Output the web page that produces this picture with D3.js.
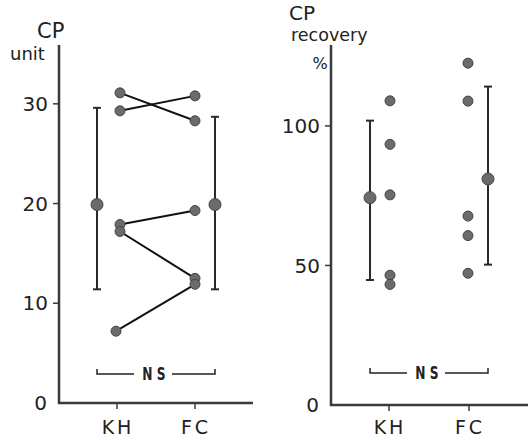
<!DOCTYPE html>
<html>
<head>
<meta charset="utf-8">
<script src="https://cdn.jsdelivr.net/npm/d3@7"></script>
<style>
  body { margin: 0; background: #fff; }
  svg text { font-family: "DejaVu Sans", "Liberation Sans", sans-serif; fill: #222; }
  .ns { font-weight: bold; }
</style>
</head>
<body>
<div class="container"></div>
<script>
// groups on the x axis
const groups = ["KH", "FC"];

// left panel: CP unit, paired values (KH -> FC)
const cpKH = [31.1, 29.3, 17.9, 17.2, 7.2];
const cpFC = [28.3, 30.8, 19.3, 12.5, 11.9];
const cpMean = [19.9, 19.9];
const cpLow = [11.4, 11.4];
const cpHigh = [29.6, 28.7];
const cpTicks = [0, 10, 20, 30];

// right panel: CP recovery %
const recKH = [109.0, 93.4, 75.3, 46.5, 43.2];
const recFC = [122.5, 108.9, 67.7, 60.7, 47.2];
const recMean = [74.3, 81.0];
const recLow = [44.8, 50.3];
const recHigh = [101.9, 114.1];
const recTicks = [0, 50, 100];

const W = 528, H = 440;
const svg = d3.select("div.container").append("svg")
    .attr("width", W)
    .attr("height", H);

const axisColor = "#3a3a3a";
const dotFill = "#6b6b6b", dotStroke = "#444";

function drawPanel(opt) {
    const g = svg.append("g");
    const y = d3.scaleLinear().domain(opt.yDomain).range([opt.y0, opt.yTop]);
    const x = d3.scalePoint().domain(groups).range(opt.xRange);

    // y axis line and x axis line
    g.append("line")
        .attr("x1", opt.xAxis).attr("x2", opt.xAxis)
        .attr("y1", opt.yTop).attr("y2", opt.y0 + 1)
        .attr("stroke", axisColor).attr("stroke-width", 2.5);
    g.append("line")
        .attr("x1", opt.xAxis - 1).attr("x2", opt.xEnd)
        .attr("y1", opt.y0).attr("y2", opt.y0)
        .attr("stroke", axisColor).attr("stroke-width", 2.5);

    // y ticks
    g.selectAll("line.ytick")
        .data(opt.ticks.filter(d => d > 0))
        .enter().append("line")
        .attr("class", "ytick")
        .attr("x1", opt.xAxis - 6).attr("x2", opt.xAxis)
        .attr("y1", d => y(d)).attr("y2", d => y(d))
        .attr("stroke", axisColor).attr("stroke-width", 1.5);
    g.selectAll("text.ylab")
        .data(opt.ticks)
        .enter().append("text")
        .attr("class", "ylab")
        .attr("x", d => d === 0 ? opt.xAxis - 12 : opt.xAxis - 11)
        .attr("y", d => y(d))
        .attr("dy", "0.36em")
        .attr("text-anchor", "end")
        .style("font-size", "20px")
        .text(d => d);

    // x ticks and labels
    g.selectAll("line.xtick")
        .data(groups)
        .enter().append("line")
        .attr("class", "xtick")
        .attr("x1", d => x(d)).attr("x2", d => x(d))
        .attr("y1", opt.y0).attr("y2", opt.y0 + 6)
        .attr("stroke", axisColor).attr("stroke-width", 1.5);
    g.selectAll("text.xlab")
        .data(groups)
        .enter().append("text")
        .attr("class", "xlab")
        .attr("x", d => x(d) + 1)
        .attr("y", 434)
        .attr("text-anchor", "middle")
        .style("font-size", "19px")
        .style("letter-spacing", "3px")
        .text(d => d);

    // axis titles
    opt.titles.forEach(t => {
        g.append("text")
            .attr("x", t.x).attr("y", t.y)
            .attr("text-anchor", t.anchor || "start")
            .style("font-size", t.size + "px")
            .text(t.text);
    });

    // connecting lines between paired values
    if (opt.paired) {
        g.selectAll("line.pair")
            .data(opt.a.map((v, i) => [v, opt.b[i]]))
            .enter().append("line")
            .attr("class", "pair")
            .attr("x1", (d, i) => x("KH") + (i === 4 ? -1 : 3))
            .attr("x2", x("FC"))
            .attr("y1", d => y(d[0]))
            .attr("y2", d => y(d[1]))
            .attr("stroke", "#111").attr("stroke-width", 2);
    }

    // error bars (mean with range)
    const bars = groups.map((gname, i) => ({
        g: gname, mean: opt.mean[i], lo: opt.low[i], hi: opt.high[i],
        dx: i === 0 ? -opt.meanOff : opt.meanOff
    }));
    const eb = g.selectAll("g.eb").data(bars).enter().append("g").attr("class", "eb");
    eb.append("line")
        .attr("x1", d => x(d.g) + d.dx).attr("x2", d => x(d.g) + d.dx)
        .attr("y1", d => y(d.hi)).attr("y2", d => y(d.lo))
        .attr("stroke", "#2a2a2a").attr("stroke-width", 2);
    ["hi", "lo"].forEach(k => {
        eb.append("line")
            .attr("x1", d => x(d.g) + d.dx - 4).attr("x2", d => x(d.g) + d.dx + 4)
            .attr("y1", d => y(d[k])).attr("y2", d => y(d[k]))
            .attr("stroke", "#2a2a2a").attr("stroke-width", 2);
    });
    eb.append("circle")
        .attr("cx", d => x(d.g) + d.dx)
        .attr("cy", d => y(d.mean))
        .attr("r", 6)
        .attr("fill", dotFill).attr("stroke", dotStroke).attr("stroke-width", 1);

    // individual dots
    const pts = opt.a.map((v, i) => ({g: "KH", v: v, dx: opt.dotOffKH[i]}))
        .concat(opt.b.map((v, i) => ({g: "FC", v: v, dx: opt.dotOffFC})));
    g.selectAll("circle.pt")
        .data(pts)
        .enter().append("circle")
        .attr("class", "pt")
        .attr("cx", d => x(d.g) + d.dx)
        .attr("cy", d => y(d.v))
        .attr("r", 5)
        .attr("fill", dotFill).attr("stroke", dotStroke).attr("stroke-width", 1);

    // NS bracket
    const bx1 = x("KH") - opt.meanOff, bx2 = x("FC") + opt.meanOff;
    const by = opt.nsY, mid = (bx1 + bx2) / 2;
    const br = g.append("g").attr("stroke", "#222").attr("stroke-width", 1.5).attr("fill", "none");
    br.append("path").attr("d", `M${bx1},${by - 5}V${by}H${mid - 22}`);
    br.append("path").attr("d", `M${mid + 16},${by}H${bx2}V${by - 5}`);
    g.append("text")
        .attr("class", "ns")
        .attr("x", mid - 3)
        .attr("y", by)
        .attr("dy", "0.36em")
        .attr("text-anchor", "middle")
        .style("font-size", "17px")
        .attr("transform", `translate(${mid},0) scale(0.72,1) translate(${-mid},0)`)
        .text("N S");
}

drawPanel({
    yDomain: [0, 35.9], y0: 403, yTop: 45,
    xAxis: 59, xEnd: 253, xRange: [117, 195],
    ticks: cpTicks, a: cpKH, b: cpFC,
    mean: cpMean, low: cpLow, high: cpHigh,
    meanOff: 20, paired: true,
    dotOffKH: [3, 3, 3, 3, -1], dotOffFC: 0,
    nsY: 374,
    titles: [
        {text: "CP", x: 37, y: 38, size: 21},
        {text: "unit", x: 10, y: 60, size: 18}
    ]
});

drawPanel({
    yDomain: [0, 129], y0: 405, yTop: 45,
    xAxis: 331, xEnd: 528, xRange: [389, 469],
    ticks: recTicks, a: recKH, b: recFC,
    mean: recMean, low: recLow, high: recHigh,
    meanOff: 19, paired: false,
    dotOffKH: [1, 1, 1, 1, 1], dotOffFC: -1,
    nsY: 373,
    titles: [
        {text: "CP", x: 289, y: 20, size: 20},
        {text: "recovery", x: 291, y: 41, size: 17.5},
        {text: "%", x: 320, y: 69, size: 16, anchor: "middle"}
    ]
});
</script>
</body>
</html>
